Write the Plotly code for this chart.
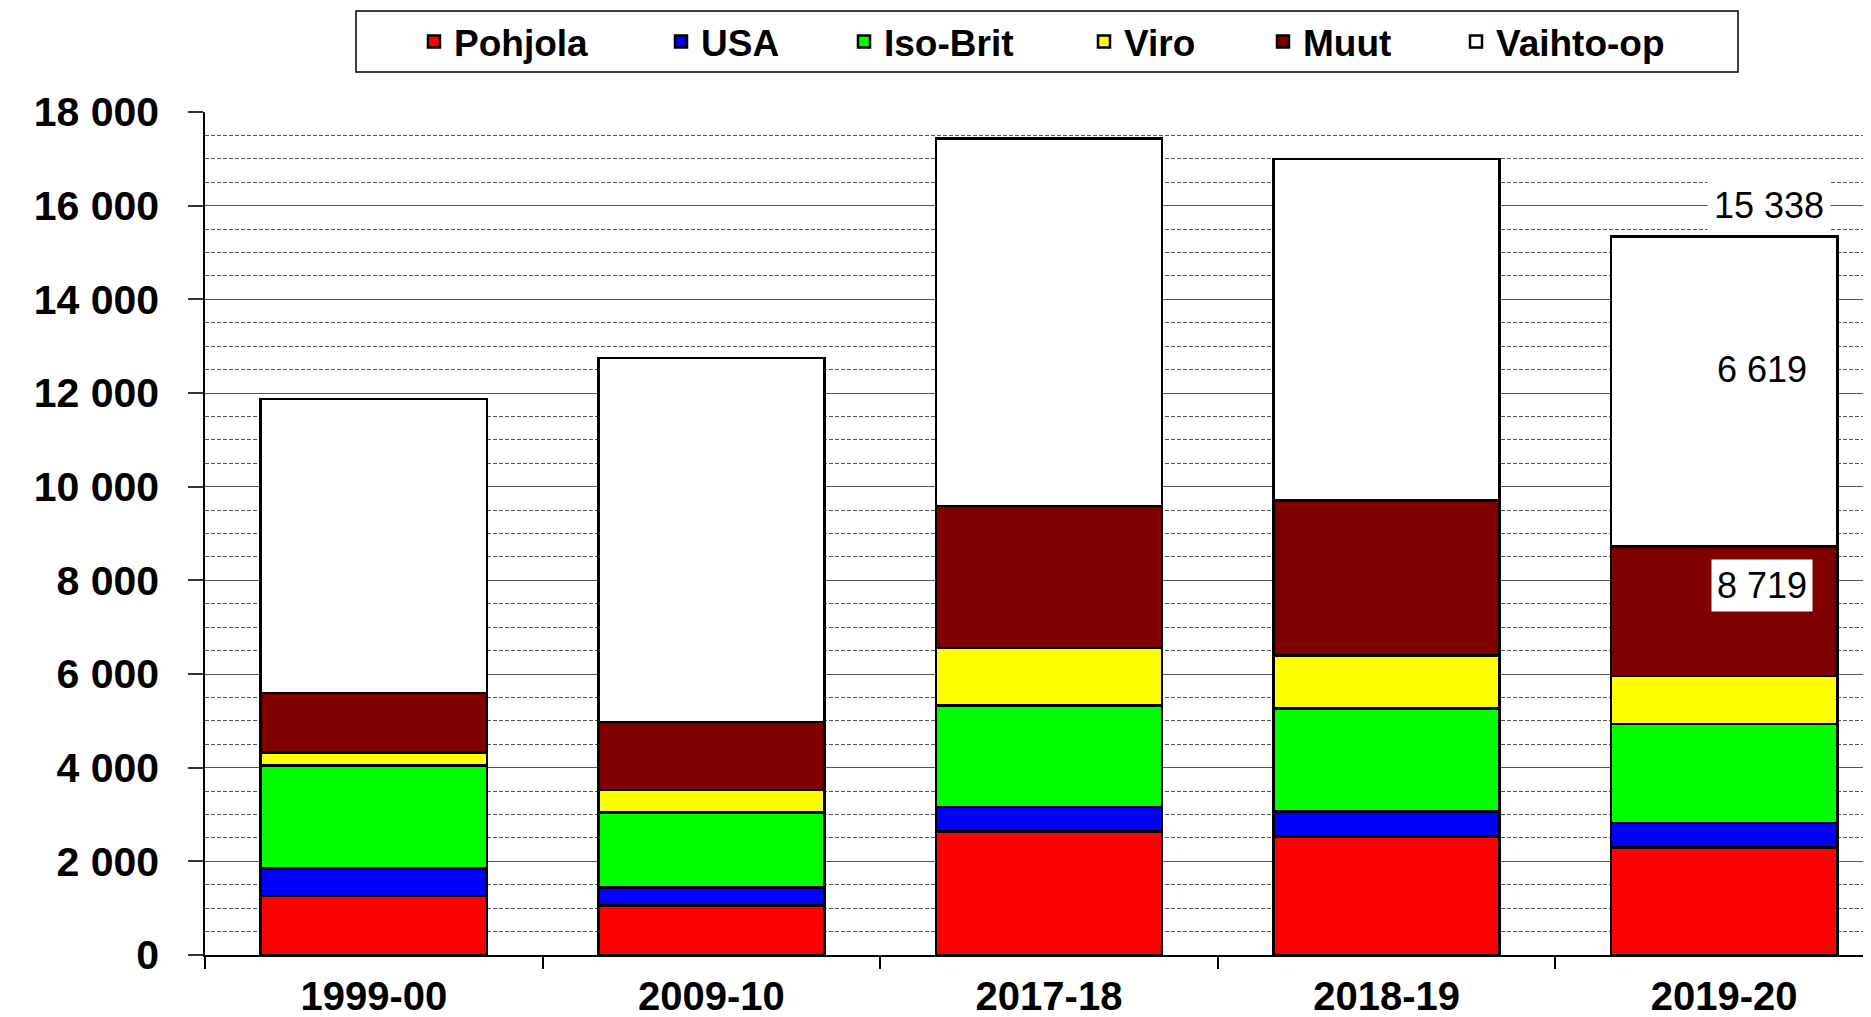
import plotly.graph_objects as go

# ---- data ----
categories = ["1999-00", "2009-10", "2017-18", "2018-19", "2019-20"]
pohjola = [1260, 1060, 2640, 2530, 2295]
usa = [590, 380, 520, 530, 520]
iso_brit = [2200, 1600, 2170, 2200, 2115]
viro = [270, 480, 1230, 1140, 1030]
muut = [1270, 1450, 3030, 3300, 2759]
vaihto_op = [6280, 7780, 7840, 7300, 6619]

series_names = ["Pohjola", "USA", "Iso-Brit", "Viro", "Muut", "Vaihto-op"]
series_values = [pohjola, usa, iso_brit, viro, muut, vaihto_op]
series_colors = ["#FF0000", "#0000FF", "#00FF00", "#FFFF00", "#800000", "#FFFFFF"]

y_tick_values = [0, 2000, 4000, 6000, 8000, 10000, 12000, 14000, 16000, 18000]


def fmt(v):
    return f"{v:,}".replace(",", " ")


y_tick_labels = [fmt(v) for v in y_tick_values]

# ---- layout geometry (pixels) ----
# the page body adds an 8px offset, so the figure is drawn 8px smaller
OFF = 8
W, H = 1871 - OFF, 1017 - OFF
ML, MR, MT, MB = 205 - OFF, 0, 112 - OFF, 62
PW = W - ML - MR
PH = H - MT - MB

def px_to_paper_x(px):
    return (px - OFF - ML) / PW

def px_to_paper_y(py):
    return (H - MB - (py - OFF)) / PH

FONT = "Liberation Sans, Arial, sans-serif"

fig = go.Figure()

# legend text start positions (viewport pixels) for each separate legend
legend_text_x = [454, 701, 884, 1124, 1303, 1496]
legend_keys = ["legend", "legend2", "legend3", "legend4", "legend5", "legend6"]

for name, vals, col, lk in zip(series_names, series_values, series_colors, legend_keys):
    fig.add_trace(go.Bar(
        name=name,
        x=categories,
        y=vals,
        marker=dict(color=col, line=dict(color="black", width=2.5)),
        legend=lk,
        showlegend=True,
        hovertemplate=name + ": %{y}<extra></extra>",
    ))

legend_layouts = {}
for lk, tx in zip(legend_keys, legend_text_x):
    legend_layouts[lk] = dict(
        x=px_to_paper_x(tx - 40),
        y=px_to_paper_y(42),
        xanchor="left",
        yanchor="middle",
        orientation="h",
        bgcolor="rgba(0,0,0,0)",
        borderwidth=0,
        font=dict(family=FONT, size=37, color="black", weight="bold"),
        itemclick=False,
        itemdoubleclick=False,
        visible=True,
    )

total_last = sum(v[-1] for v in series_values)
vaihto_last = vaihto_op[-1]
others_last = total_last - vaihto_last

annotations = [
    dict(x=4, y=16000, xref="x", yref="y", xshift=45,
         text=fmt(total_last), showarrow=False, bgcolor="white",
         borderpad=6,
         font=dict(family=FONT, size=36, color="black")),
    dict(x=4, y=12500, xref="x", yref="y", xshift=38,
         text=fmt(vaihto_last), showarrow=False,
         font=dict(family=FONT, size=36, color="black")),
    dict(x=4, y=7900, xref="x", yref="y", xshift=38,
         text=fmt(others_last), showarrow=False, bgcolor="white",
         borderpad=5,
         font=dict(family=FONT, size=36, color="black")),
]

fig.update_layout(
    width=W, height=H, autosize=False,
    margin=dict(l=ML, r=MR, t=MT, b=MB, pad=0),
    paper_bgcolor="white", plot_bgcolor="white",
    barmode="stack", bargap=0.33,
    showlegend=True,
    font=dict(family=FONT, color="black"),
    annotations=annotations,
    shapes=[dict(type="rect", xref="paper", yref="paper",
                 x0=px_to_paper_x(356), x1=px_to_paper_x(1738),
                 y0=px_to_paper_y(72), y1=px_to_paper_y(11),
                 line=dict(color="black", width=1.5), fillcolor="rgba(0,0,0,0)",
                 layer="above")],
    **legend_layouts,
)

fig.update_xaxes(
    type="category",
    categoryorder="array", categoryarray=categories,
    range=[-0.5, -0.5 + PW / 337.6],
    automargin=False,
    showline=True, linecolor="black", linewidth=1.5,
    ticks="outside", tickson="boundaries", ticklen=12, tickcolor="black", tickwidth=1.5,
    showgrid=False,
    tickfont=dict(family=FONT, size=40, color="black", weight="bold"),
    ticklabelstandoff=5,
)

fig.update_yaxes(
    range=[0, 18000],
    automargin=False,
    tickvals=y_tick_values, ticktext=y_tick_labels,
    showline=True, linecolor="black", linewidth=1.5,
    ticks="outside", ticklen=15, tickcolor="#333", tickwidth=1.5,
    showgrid=True, gridcolor="#555", gridwidth=1.3,
    zeroline=False,
    minor=dict(dtick=500, showgrid=True, gridcolor="#555", gridwidth=1,
               griddash="4px,2px", ticks=""),
    tickfont=dict(family=FONT, size=41, color="black", weight="bold"),
    ticklabelstandoff=21,
)

fig.write_html("out.html")
